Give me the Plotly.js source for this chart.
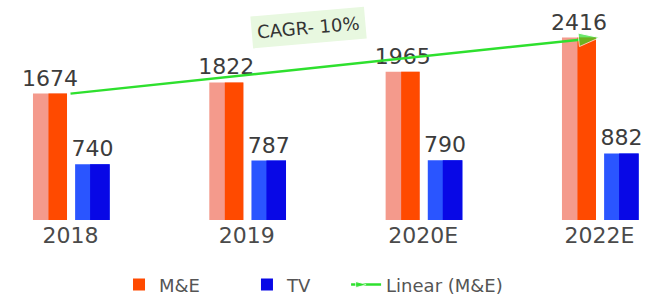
<!DOCTYPE html>
<html>
<head>
<meta charset="utf-8">
<script src="https://cdn.plot.ly/plotly-3.0.1.min.js"></script>
<style>html,body{margin:0;padding:0;background:#fff;overflow:hidden;}#wrap{width:663px;height:295px;overflow:hidden;}</style>
</head>
<body>
<div id="wrap"><div id="chart"></div></div>
<script>
const categories = ["2018", "2019", "2020E", "2022E"];
const meValues = [1674, 1822, 1965, 2416];
const tvValues = [740, 787, 790, 882];
const trendCategories = ["2018", "2022E"];
const trendValues = [1674, 2416];
const seriesNames = ["M&E", "TV", "Linear (M&E)"];
const cagrLabel = "CAGR- 10%";

const FONT = "DejaVu Sans, Liberation Sans, Arial, sans-serif";
const valueFont = {family: FONT, size: 22, color: "#3c3c3c"};

const traces = [
  { // M&E light face
    type: "bar", x: categories, y: meValues, offset: -0.213, width: 0.193,
    marker: {color: "#f49a8c"}, text: meValues.map(String), textposition: "outside",
    constraintext: "none", textfont: valueFont, cliponaxis: false,
    showlegend: false, hoverinfo: "skip"
  },
  { // M&E dark face
    type: "bar", x: categories, y: meValues, offset: -0.125, width: 0.105,
    marker: {color: "#ff4a00"}, name: seriesNames[0], legend: "legend"
  },
  { // TV light face
    type: "bar", x: categories, y: tvValues, offset: 0.026, width: 0.196,
    marker: {color: "#2a55ff"}, text: tvValues.map(String), textposition: "outside",
    constraintext: "none", textfont: valueFont, cliponaxis: false,
    showlegend: false, hoverinfo: "skip"
  },
  { // TV dark face
    type: "bar", x: categories, y: tvValues, offset: 0.111, width: 0.111,
    marker: {color: "#0808e6"}, name: seriesNames[1], legend: "legend2"
  },
  {
    type: "scatter", mode: "lines+markers", x: trendCategories, y: trendValues,
    line: {color: "#2ee02e", width: 2.5}, name: seriesNames[2], cliponaxis: false,
    marker: {symbol: "arrow", angleref: "previous", size: [0, 22], color: "#2ee02e"},
    legend: "legend3"
  }
];

const legendFont = {family: FONT, size: 18, color: "#555"};
function legendAt(xPaper) {
  return {orientation: "h", x: xPaper, xanchor: "left", y: -0.295, yanchor: "middle", font: legendFont};
}

const layout = {
  width: 663, height: 305,
  margin: {l: 0, r: 0, t: 0, b: 85},
  paper_bgcolor: "#ffffff", plot_bgcolor: "#ffffff",
  barmode: "overlay",
  font: {family: FONT, color: "#444"},
  xaxis: {
    type: "category", range: [-0.40, 3.36], showgrid: false, zeroline: false,
    showline: false, ticks: "", tickfont: {family: FONT, size: 22, color: "#4a4a4a"}
  },
  yaxis: {range: [0, 2914], visible: false, showgrid: false, zeroline: false},
  showlegend: true,
  legend: legendAt(0.1795),
  legend2: legendAt(0.3725),
  legend3: legendAt(0.522),
  annotations: [
    {
      xref: "paper", yref: "paper", x: 0.466, y: 0.877, xanchor: "center", yanchor: "middle",
      text: cagrLabel, showarrow: false,
      textangle: -5, bgcolor: "#e8f8e0", borderpad: 5,
      font: {family: FONT, size: 18, color: "#333"}
    }
  ]
};

Plotly.newPlot("chart", traces, layout, {displayModeBar: false, staticPlot: true});
</script>
</body>
</html>
